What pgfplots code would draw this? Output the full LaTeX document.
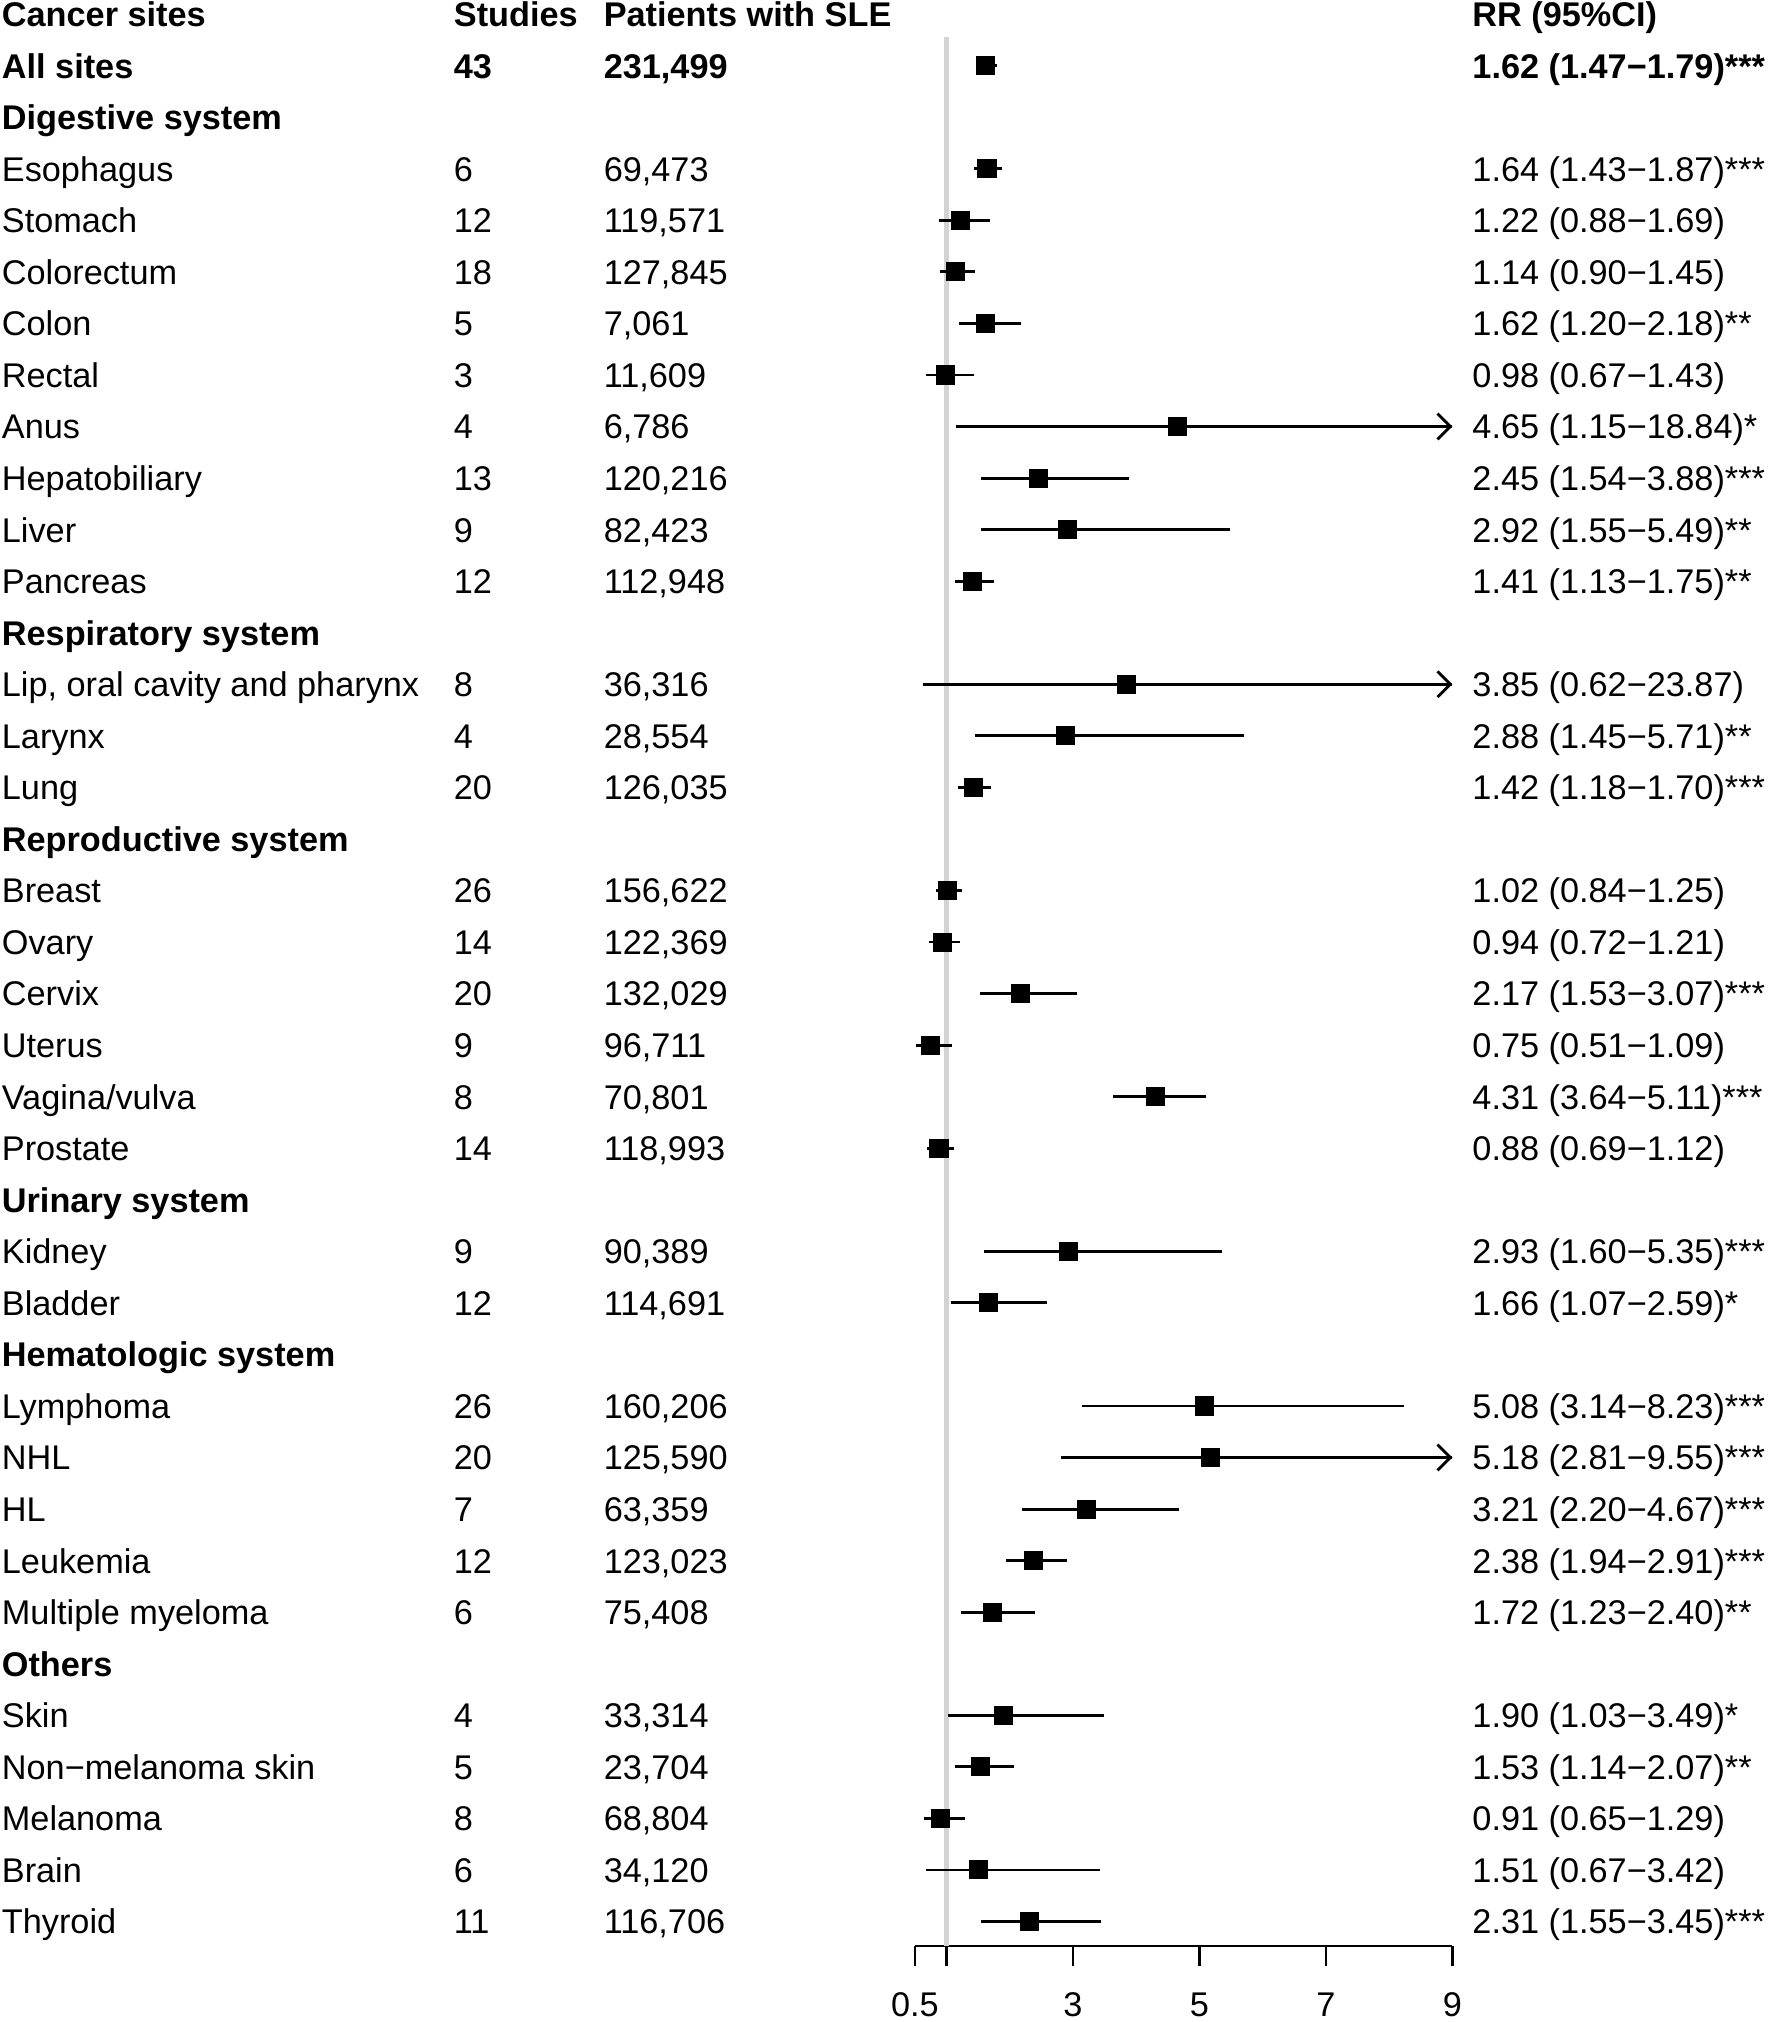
\documentclass[border=0pt]{standalone}
\usepackage{fontspec}
\setmainfont{Liberation Sans}
\usepackage{pgfplots}
\usepackage{pgfplotstable}
\pgfplotsset{compat=1.18}
\usetikzlibrary{arrows.meta}
\definecolor{refgray}{RGB}{211,211,211}
\newcommand{\ff}{\fontsize{13.3pt}{16pt}\selectfont}

% row index from the top; rr/lo/hi = relative risk and 95% CI
\pgfplotstableread[col sep=semicolon]{
row;site;st;pat;rr;lo;hi;ci
0;\textbf{Cancer sites};\textbf{Studies};\textbf{Patients with SLE};nan;nan;nan;\textbf{RR (95\%CI)}
1;\textbf{All sites};\textbf{43};\textbf{231,499};1.62;1.47;1.79;\textbf{1.62 (1.47−1.79)***}
2;\textbf{Digestive system};;;nan;nan;nan;
3;Esophagus;6;69,473;1.64;1.43;1.87;1.64 (1.43−1.87)***
4;Stomach;12;119,571;1.22;0.88;1.69;1.22 (0.88−1.69)
5;Colorectum;18;127,845;1.14;0.90;1.45;1.14 (0.90−1.45)
6;Colon;5;7,061;1.62;1.20;2.18;1.62 (1.20−2.18)**
7;Rectal;3;11,609;0.98;0.67;1.43;0.98 (0.67−1.43)
8;Anus;4;6,786;4.65;1.15;18.84;4.65 (1.15−18.84)*
9;Hepatobiliary;13;120,216;2.45;1.54;3.88;2.45 (1.54−3.88)***
10;Liver;9;82,423;2.92;1.55;5.49;2.92 (1.55−5.49)**
11;Pancreas;12;112,948;1.41;1.13;1.75;1.41 (1.13−1.75)**
12;\textbf{Respiratory system};;;nan;nan;nan;
13;Lip, oral cavity and pharynx;8;36,316;3.85;0.62;23.87;3.85 (0.62−23.87)
14;Larynx;4;28,554;2.88;1.45;5.71;2.88 (1.45−5.71)**
15;Lung;20;126,035;1.42;1.18;1.70;1.42 (1.18−1.70)***
16;\textbf{Reproductive system};;;nan;nan;nan;
17;Breast;26;156,622;1.02;0.84;1.25;1.02 (0.84−1.25)
18;Ovary;14;122,369;0.94;0.72;1.21;0.94 (0.72−1.21)
19;Cervix;20;132,029;2.17;1.53;3.07;2.17 (1.53−3.07)***
20;Uterus;9;96,711;0.75;0.51;1.09;0.75 (0.51−1.09)
21;Vagina/vulva;8;70,801;4.31;3.64;5.11;4.31 (3.64−5.11)***
22;Prostate;14;118,993;0.88;0.69;1.12;0.88 (0.69−1.12)
23;\textbf{Urinary system};;;nan;nan;nan;
24;Kidney;9;90,389;2.93;1.60;5.35;2.93 (1.60−5.35)***
25;Bladder;12;114,691;1.66;1.07;2.59;1.66 (1.07−2.59)*
26;\textbf{Hematologic system};;;nan;nan;nan;
27;Lymphoma;26;160,206;5.08;3.14;8.23;5.08 (3.14−8.23)***
28;NHL;20;125,590;5.18;2.81;9.55;5.18 (2.81−9.55)***
29;HL;7;63,359;3.21;2.20;4.67;3.21 (2.20−4.67)***
30;Leukemia;12;123,023;2.38;1.94;2.91;2.38 (1.94−2.91)***
31;Multiple myeloma;6;75,408;1.72;1.23;2.40;1.72 (1.23−2.40)**
32;\textbf{Others};;;nan;nan;nan;
33;Skin;4;33,314;1.90;1.03;3.49;1.90 (1.03−3.49)*
34;Non−melanoma skin;5;23,704;1.53;1.14;2.07;1.53 (1.14−2.07)**
35;Melanoma;8;68,804;0.91;0.65;1.29;0.91 (0.65−1.29)
36;Brain;6;34,120;1.51;0.67;3.42;1.51 (0.67−3.42)
37;Thyroid;11;116,706;2.31;1.55;3.45;2.31 (1.55−3.45)***
}\sites

\pgfplotsset{txt/.style={draw=none, mark=none, forget plot,
    nodes near coords, point meta=explicit symbolic,
    every node near coord/.append style={anchor=base west, inner sep=0pt, font=\ff, text=black}}}

\begin{document}
\ff
\begin{tikzpicture}
\begin{axis}[
    scale only axis,
    width=208.5pt, height=740.5pt,
    xmin=0.5, xmax=9, ymin=-37.475, ymax=-0.45,
    clip=false,
    axis x line=bottom, axis y line=none,
    axis line style={-, line width=1pt},
    xtick={0.5,1,3,5,7,9}, xticklabels={0.5,,3,5,7,9},
    ytick=\empty,
    tick align=outside, major tick length=7.75pt,
    xtick style={line width=1pt, black},
    xticklabel style={font=\ff, anchor=north, inner sep=0pt, yshift=-10.2pt},
]
\path (axis cs:-13.972,0.275) rectangle (axis cs:14.055,-38.95);
\addplot[refgray, line width=1.6pt, forget plot] coordinates {(1,-0.45) (1,-37.475)};

% text columns
\addplot[txt] table[x expr=-13.95, y expr=-\thisrow{row}-0.24, meta=site]{\sites};
\addplot[txt] table[x expr=-6.80, y expr=-\thisrow{row}-0.24, meta=st]{\sites};
\addplot[txt] table[x expr=-4.43, y expr=-\thisrow{row}-0.24, meta=pat]{\sites};
\addplot[txt] table[x expr=9.31, y expr=-\thisrow{row}-0.24, meta=ci]{\sites};

% estimates with CIs (upper limits cut at 9)
\addplot[only marks, mark=square*, mark size=3.5pt, black,
    error bars/.cd, x dir=both, x explicit, error mark=none,
    error bar style={line width=1.1pt, black}]
  table[x=rr, y expr=-\thisrow{row},
    x error plus expr={min(\thisrow{hi},9)-\thisrow{rr}},
    x error minus expr={\thisrow{rr}-\thisrow{lo}}]{\sites};

% arrows for CIs beyond the axis
\addplot[line width=1.1pt, -{Straight Barb[length=5pt,width=10pt]}] coordinates {(8.5,-8) (9,-8)};
\addplot[line width=1.1pt, -{Straight Barb[length=5pt,width=10pt]}] coordinates {(8.5,-13) (9,-13)};
\addplot[line width=1.1pt, -{Straight Barb[length=5pt,width=10pt]}] coordinates {(8.5,-28) (9,-28)};
\end{axis}
\end{tikzpicture}
\end{document}
